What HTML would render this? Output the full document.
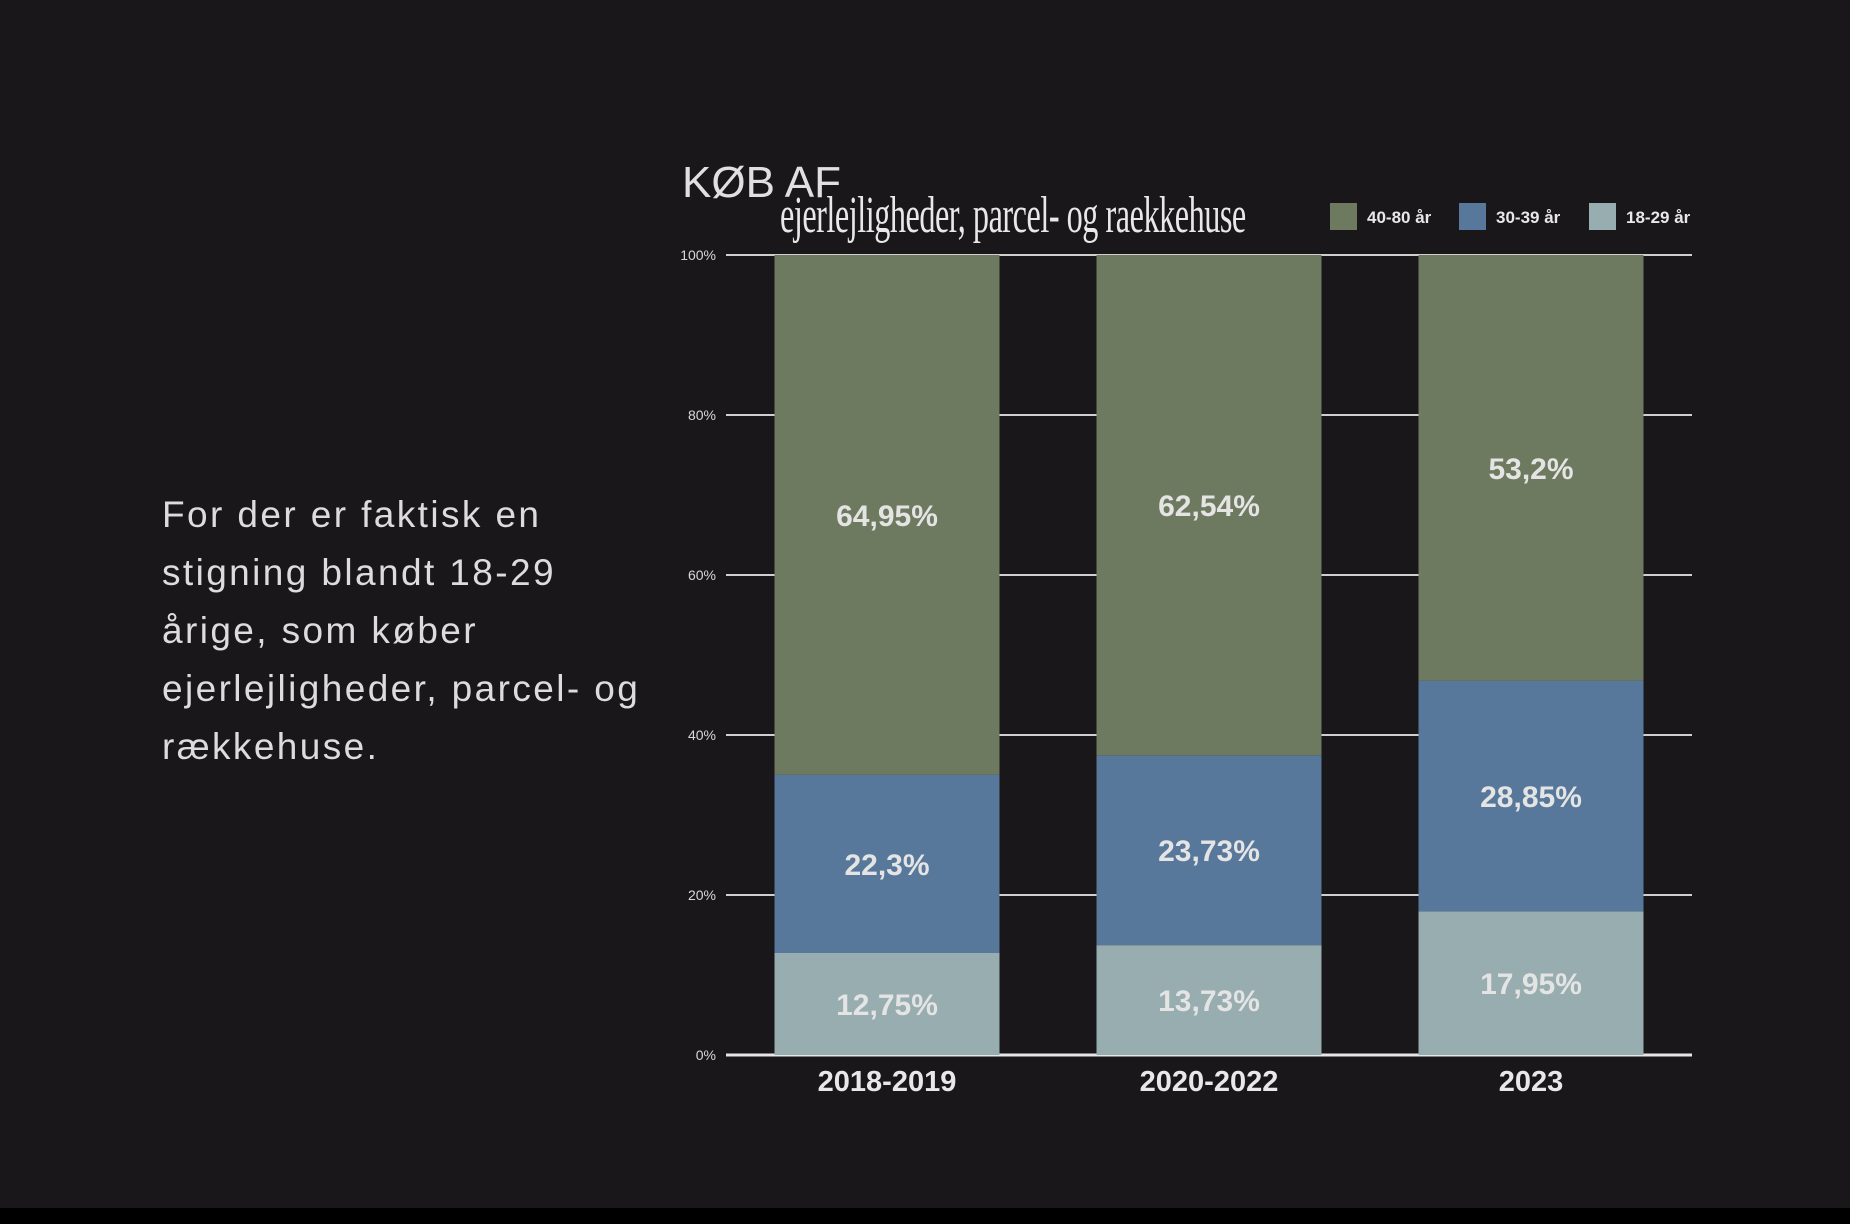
<!DOCTYPE html>
<html><head><meta charset="utf-8">
<style>
html,body{margin:0;padding:0;background:#19171a;}
body{width:1850px;height:1224px;position:relative;overflow:hidden;font-family:"Liberation Sans",sans-serif;}
#bottom{position:absolute;left:0;top:1208px;width:1850px;height:16px;background:#000;}
#intro{position:absolute;left:162px;top:486px;width:700px;color:#dcdcdc;font-size:37px;line-height:58px;white-space:nowrap;letter-spacing:2.4px;}
svg{position:absolute;left:0;top:0;}
</style></head>
<body>
<div id="intro">For der er faktisk en<br>stigning blandt 18-29<br>årige, som køber<br>ejerlejligheder, parcel- og<br>rækkehuse.</div>
<div id="bottom"></div>
<svg id="chart" width="1850" height="1224">
  <text x="682" y="197" font-size="44" fill="#e0e0e0" font-family="Liberation Sans, sans-serif" font-weight="300">KØB AF</text>
  <text x="780" y="232" font-size="52" fill="#e8e8e8" font-family="Liberation Serif, serif" transform="translate(780,0) scale(0.62,1) translate(-780,0)" textLength="752">ejerlejligheder, parcel- og raekkehuse</text>
  <g id="legend"></g>
  <g id="grid"></g>
  <g id="bars"></g>
  <g id="labels"></g>
</svg>
<script>
const categories = ["2018-2019","2020-2022","2023"];
const young = [12.75, 13.73, 17.95];
const mid = [22.3, 23.73, 28.85];
const old = [64.95, 62.54, 53.2];
const youngLabels = ["12,75%","13,73%","17,95%"];
const midLabels = ["22,3%","23,73%","28,85%"];
const oldLabels = ["64,95%","62,54%","53,2%"];
const ticks = [0,20,40,60,80,100];
const seriesNames = ["40-80 år","30-39 år","18-29 år"];

const NS="http://www.w3.org/2000/svg";
const plotL=726, plotR=1692, y0=1055, y100=255;
const y = v => y0 - (v/100)*(y0-y100);
const bandW=(plotR-plotL)/categories.length, barW=225;
const xc = i => plotL + bandW*(i+0.5);
const colors=["#6e7a5f","#57789a","#97adaf"];
function mk(tag,attrs,parent){const e=document.createElementNS(NS,tag);for(const k in attrs)e.setAttribute(k,attrs[k]);parent.appendChild(e);return e;}

const grid=document.getElementById('grid');
ticks.forEach(t=>{
  const l=mk('line',{x1:plotL,x2:plotR,y1:y(t),y2:y(t),stroke:t===0?'#e6e6e6':'#cfcfcf','stroke-width':t===0?3:2},grid);
  
  
  const tx=mk('text',{x:716,y:y(t)+5,'text-anchor':'end','font-size':14,fill:'#d8d8d8'},grid);
  tx.textContent=t+'%';
  
  
});

const bars=document.getElementById('bars'), labels=document.getElementById('labels');
categories.forEach((c,i)=>{
  const segs=[[young[i],youngLabels[i],colors[2],'18-29'],[mid[i],midLabels[i],colors[1],'30-39'],[old[i],oldLabels[i],colors[0],'40-80']];
  let base=0;
  segs.forEach(s=>{
    const top=base+s[0];
    const r=mk('rect',{x:xc(i)-barW/2,y:y(Math.min(top,100)),width:barW,height:y(base)-y(Math.min(top,100)),fill:s[2]},bars);
    
    
    const t=mk('text',{x:xc(i),y:(y(base)+y(Math.min(top,100)))/2+11,'text-anchor':'middle','font-size':30,'font-weight':'bold',fill:'#e4e4e4'},labels);
    t.textContent=s[1];
    
    
    base=top;
  });
  const ct=mk('text',{x:xc(i),y:1091,'text-anchor':'middle','font-size':29,'font-weight':'bold',fill:'#e8e8e8'},labels);
  ct.textContent=c;
  
  
});

const legend=document.getElementById('legend');
const lx=[1330,1459,1589];
seriesNames.forEach((n,i)=>{
  const r=mk('rect',{x:lx[i],y:203,width:27,height:27,fill:colors[i]},legend);
  
  
  const t=mk('text',{x:lx[i]+37,y:223,'font-size':17,'font-weight':'bold',fill:'#e8e8e8'},legend);
  t.textContent=n;
  
  
});
</script>
</body></html>
